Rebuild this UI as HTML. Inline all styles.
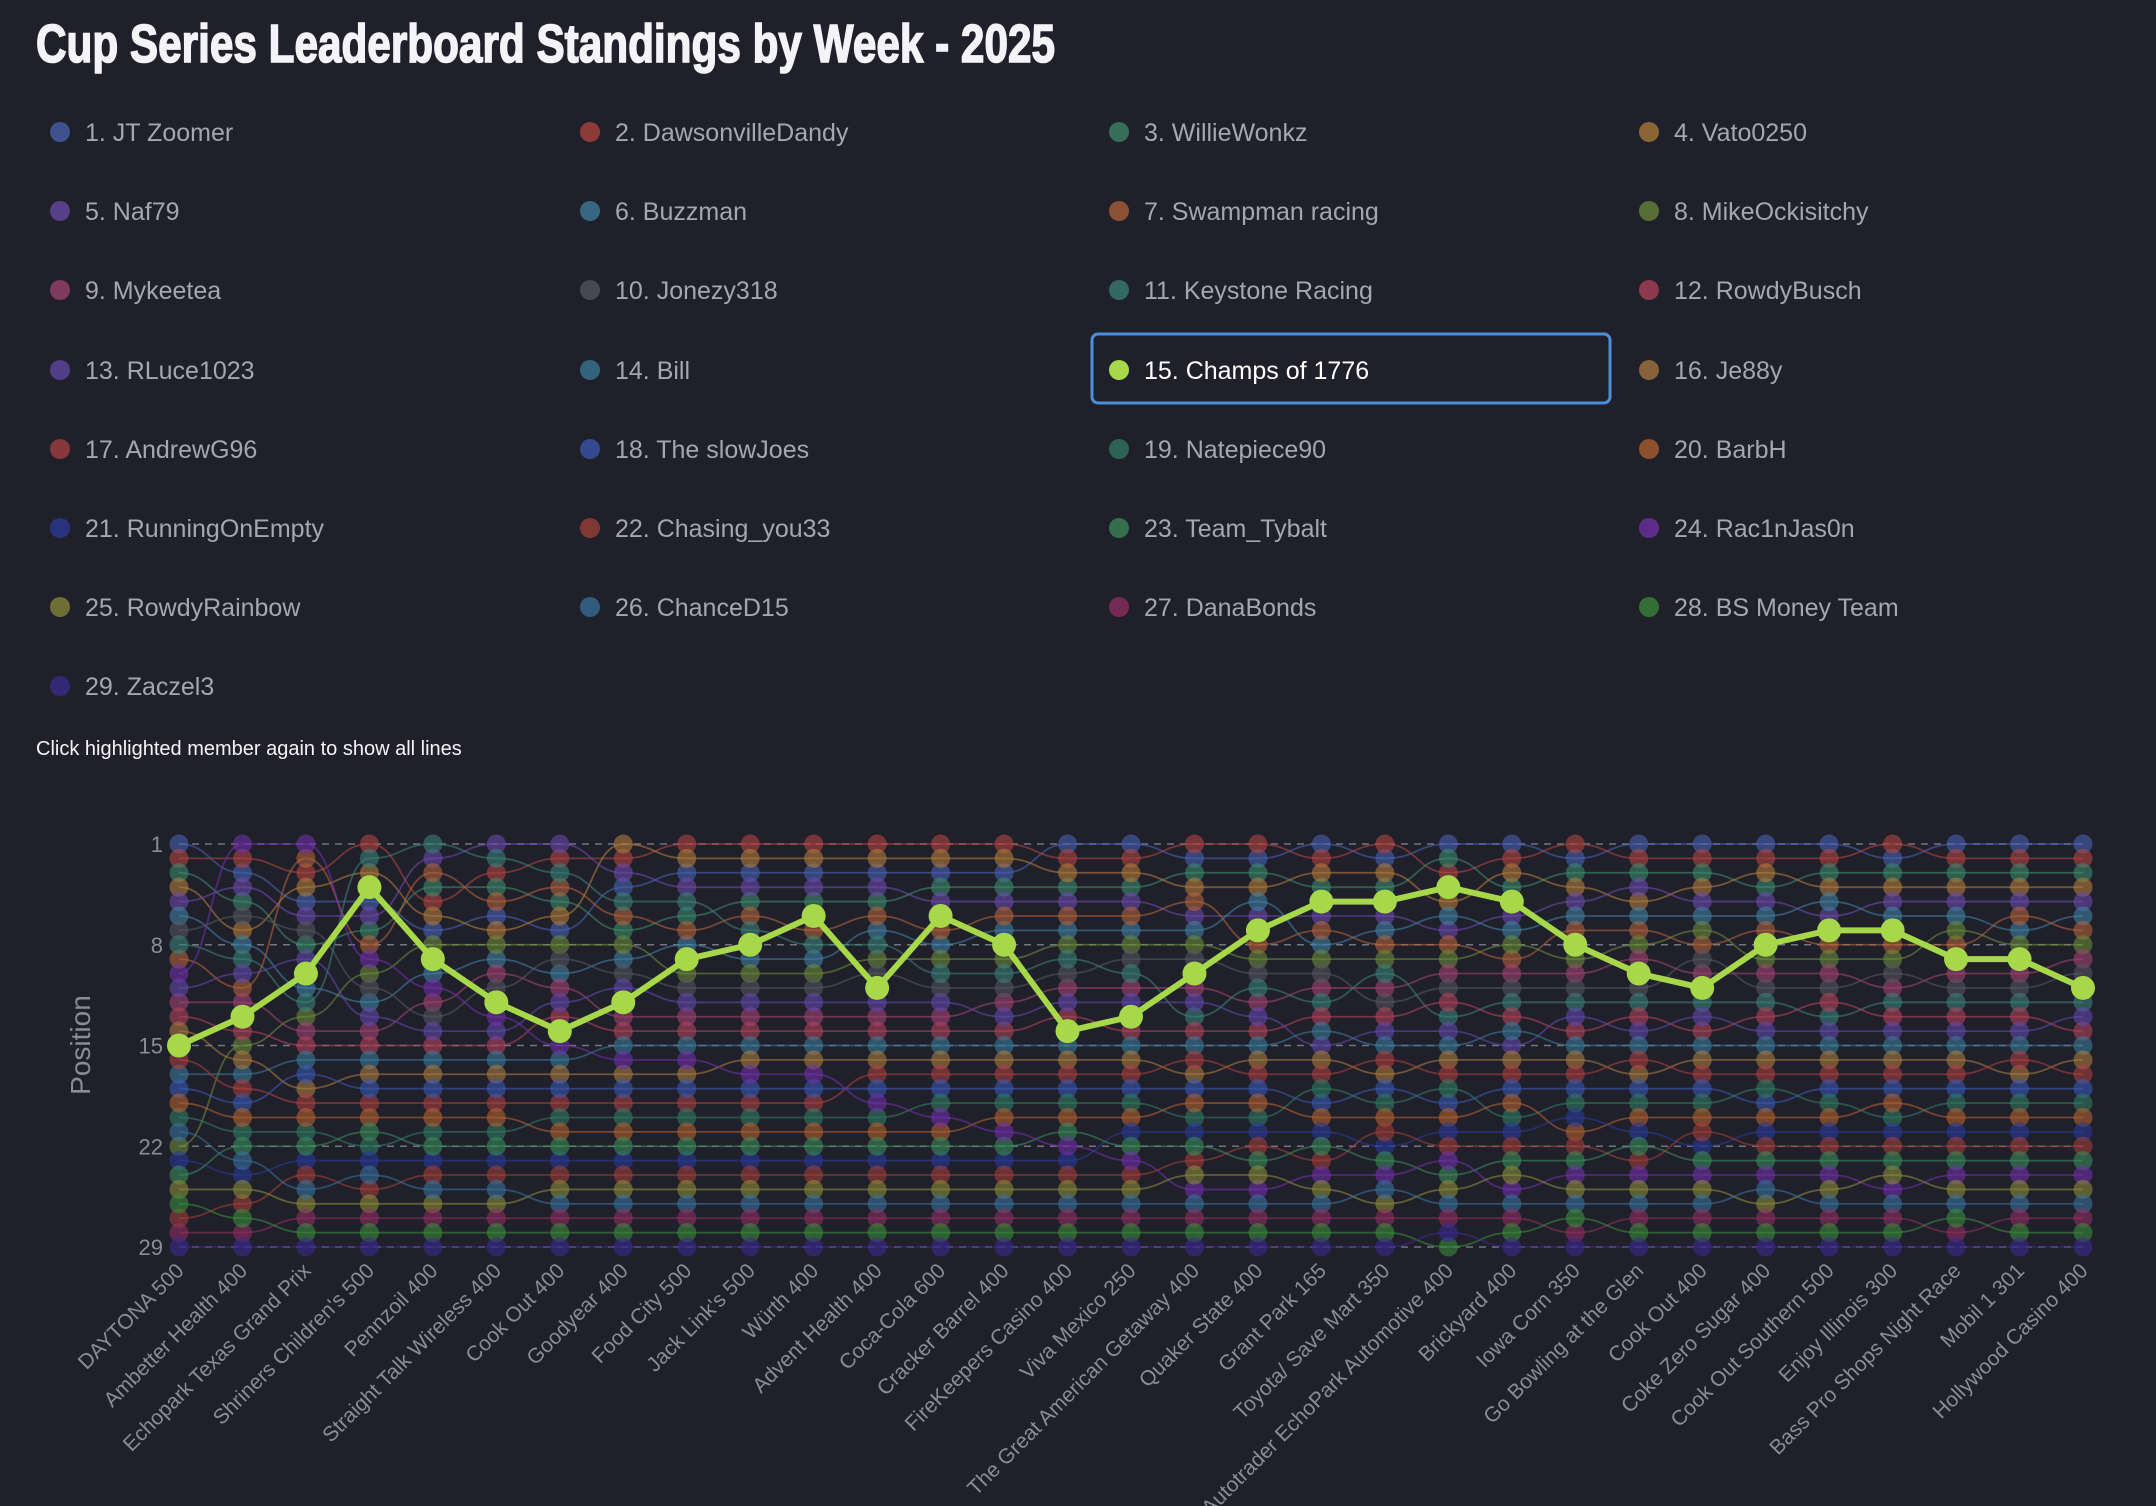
<!DOCTYPE html>
<html><head><meta charset="utf-8">
<style>
html,body{margin:0;padding:0;background:#20202b;}
svg{display:block;}
</style></head>
<body>
<svg id="chart" width="2156" height="1506" viewBox="0 0 2156 1506" xmlns="http://www.w3.org/2000/svg">
<rect x="0" y="0" width="2156" height="1506" fill="#20202b"/>
<text x="36" y="62" fill="#f4f4f8" stroke="#f4f4f8" stroke-width="1.6" font-family="'Liberation Sans Narrow','Liberation Sans',sans-serif" font-weight="bold" font-size="54" textLength="1019" lengthAdjust="spacingAndGlyphs">Cup Series Leaderboard Standings by Week - 2025</text>
<g id="legend"></g>
<text x="36" y="755" fill="#f4f4f8" font-family="'Liberation Sans',sans-serif" font-size="20">Click highlighted member again to show all lines</text>
<g id="plot"></g>
</svg>
<script>
const drivers = ["JT Zoomer","DawsonvilleDandy","WillieWonkz","Vato0250","Naf79","Buzzman","Swampman racing","MikeOckisitchy","Mykeetea","Jonezy318","Keystone Racing","RowdyBusch","RLuce1023","Bill","Champs of 1776","Je88y","AndrewG96","The slowJoes","Natepiece90","BarbH","RunningOnEmpty","Chasing_you33","Team_Tybalt","Rac1nJas0n","RowdyRainbow","ChanceD15","DanaBonds","BS Money Team","Zaczel3"];
const colors = ["#4a62b0","#b0443f","#3c8a6a","#b07c3a","#6a4aaa","#3f80a0","#b0623a","#6a8a3a","#a04272","#55555f","#3a8078","#b0425a","#6048a8","#3a7a98","#a6d84a","#a87a40","#a84040","#3a58b0","#307a60","#b06030","#2a3a98","#a04038","#3a8a58","#7030a8","#8a8a3a","#38709a","#902e60","#3a8a3a","#3a2a90"];
const races = ["DAYTONA 500","Ambetter Health 400","Echopark Texas Grand Prix","Shriners Children's 500","Pennzoil 400","Straight Talk Wireless 400","Cook Out 400","Goodyear 400","Food City 500","Jack Link's 500","Würth 400","Advent Health 400","Coca-Cola 600","Cracker Barrel 400","FireKeepers Casino 400","Viva Mexico 250","The Great American Getaway 400","Quaker State 400","Grant Park 165","Toyota/ Save Mart 350","Autotrader EchoPark Automotive 400","Brickyard 400","Iowa Corn 350","Go Bowling at the Glen","Cook Out 400","Coke Zero Sugar 400","Cook Out Southern 500","Enjoy Illinois 300","Bass Pro Shops Night Race","Mobil 1 301","Hollywood Casino 400"];
// finishing order per race, drivers encoded a=1 ... z=26, A=27, B=28, C=29
const raceOrders = [
"abcdefjkgxmilpoqnrtszhuwyBvAC",
"xbaecjdfkmgiolhpnqrtswzuyvBAC",
"xgbdaejcmofkhilnrpqtswuvzyABC",
"bkdoaecgxhjfmilnprqtwsuzvyABC",
"kegcbdahofxijmlnprqtswuvzyABC",
"ekbcgadhfijoxmlnprqtswuvzyABC",
"ebkgcdahjfimloxnprqstwuvyzABC",
"dbeakgchfjmoilnxprqstwuvyzABC",
"bdaekcgfohjmilnxprqstwuvyzABC",
"bdaecgkofhjmilnpxrqstwuvyzABC",
"bdaecogkfhjmilnpxrqstwuvyzABC",
"bdaecgfkhjomilnpqrxstwuvyzABC",
"bdaceogfhkjmilnpqrsxtwuvyzABC",
"bdacegfohkjimlnpqrstxwuvyzABC",
"abdcegfhkjimlonpqrstwxuvyzABC",
"abdcegfhjkimolnpqrstuwxvyzABC",
"bacdgefhjoimklnqprtsuwvyxzABC",
"bacdfeoghjkimlnpqrtsuvwyxzABC",
"abdcoegfhjiklnmpqsrtuwvxyzABC",
"badcoefghkijlmnqprstvuwxzyABC",
"acbodfeghijlkmnpqsrtuvxwyzACB",
"abdcoefhgijklnmpqrtsuvwyxzABC",
"bacdefgohijkmlnpqrsutvwxyzBAC",
"abcedfghiojklmnqprstuwvxyzABC",
"abcdefhgjiokmlnpqrstvuwxyzABC",
"abdcefgohijklmnpqsrtuvwxzyABC",
"abcdfeoghijlkmnpqrstuvwxyzABC",
"bacdefoghjiklmnpqrtsuvwyxzABC",
"abcdefhgoijklmnpqrstuvwxyzBAC",
"abcdegfhoijklmnqprstuvwxyzABC",
"abcdefghijokmlnpqrstuvwxyzABC"
];
const yTicks = [1,8,15,22,29];
const highlighted = 14;

const NS="http://www.w3.org/2000/svg";
function mk(tag, attrs, parent){const e=document.createElementNS(NS,tag);for(const k in attrs)e.setAttribute(k,attrs[k]);parent.appendChild(e);return e;}
const codes="abcdefghijklmnopqrstuvwxyzABC";
const positions = drivers.map(()=>[]);
raceOrders.forEach((s,r)=>{
  const seen=new Set(); const order=[];
  for(const ch of s){const d=codes.indexOf(ch); if(d>=0&&!seen.has(d)){seen.add(d);order.push(d);}}
  for(let d=0;d<drivers.length;d++) if(!seen.has(d)) order.push(d);
  order.forEach((d,i)=>{positions[d][r]=i+1;});
});
const X0=179, X1=2083, Y0=844, Y1=1247;
const xScale=i=>X0+(X1-X0)*i/(races.length-1);
const yScale=p=>Y0+(Y1-Y0)*(p-1)/(drivers.length-1);

const lg=document.getElementById('legend');
const colX=[60,590,1119,1649], rowY=[132,211,290,370,449,528,607,686];
drivers.forEach((n,i)=>{
  const cx=colX[i%4], cy=rowY[Math.floor(i/4)];
  const g=mk('g',{},lg);
  
  
  if(i===highlighted){
    const b=mk('rect',{x:1092,y:334,width:518,height:69,rx:6,fill:'none',stroke:'#4a8fd8','stroke-width':3},g);
    
    
  }
  const c=mk('circle',{cx:cx,cy:cy,r:10,fill:colors[i],opacity:i===highlighted?1:0.75},g);
  
  
  const t=mk('text',{x:cx+25,y:cy+9,fill:i===highlighted?'#ffffff':'#a6a6b0','font-family':"'Liberation Sans',sans-serif",'font-size':25},g);
  
  
  t.textContent=(i+1)+". "+n;
});

const pl=document.getElementById('plot');
yTicks.forEach(v=>{
  const y=yScale(v);
  const l=mk('line',{x1:X0,x2:X1,y1:y,y2:y,stroke:'#8a8a98','stroke-width':1.5,'stroke-dasharray':'7,6',opacity:0.8},pl);
  
  
  const t=mk('text',{x:163,y:y+8,fill:'#8c8c98','text-anchor':'end','font-family':"'Liberation Sans',sans-serif",'font-size':22},pl);
  
  
  t.textContent=v;
});
const yt=mk('text',{x:0,y:0,transform:'translate(90,1045) rotate(-90)',fill:'#8c8c98','text-anchor':'middle','font-family':"'Liberation Sans',sans-serif",'font-size':28},pl);


yt.textContent='Position';
races.forEach((r,i)=>{
  const x=xScale(i);
  const t=mk('text',{x:0,y:0,transform:`translate(${x+6},1272) rotate(-45)`,fill:'#8c8c98','text-anchor':'end','font-family':"'Liberation Sans',sans-serif",'font-size':21},pl);
  
  
  t.textContent=r;
});

function bump(pts){let d=`M${pts[0][0]},${pts[0][1]}`;for(let i=1;i<pts.length;i++){const [a,b]=pts[i-1],[c,e]=pts[i];const m=(a+c)/2;d+=` C${m},${b} ${m},${e} ${c},${e}`;}return d;}
drivers.forEach((n,d)=>{
  if(d===highlighted) return;
  const pts=positions[d].map((p,i)=>[xScale(i),yScale(p)]);
  const p=mk('path',{d:bump(pts),fill:'none',stroke:colors[d],'stroke-width':1.8,opacity:0.6},pl);
  
  
});
drivers.forEach((n,d)=>{
  if(d===highlighted) return;
  positions[d].forEach((p,i)=>{
    const c=mk('circle',{cx:xScale(i),cy:yScale(p),r:9.5,fill:colors[d],opacity:0.6},pl);
    
    
  });
});
const hp=positions[highlighted].map((p,i)=>[xScale(i),yScale(p)]);
const hl=mk('path',{d:'M'+hp.map(q=>q.join(',')).join(' L'),fill:'none',stroke:'#a6d84a','stroke-width':6,'stroke-linejoin':'round'},pl);


hp.forEach(q=>{
  const c=mk('circle',{cx:q[0],cy:q[1],r:12,fill:'#a6d84a'},pl);
  
  
});
</script>
</body></html>
